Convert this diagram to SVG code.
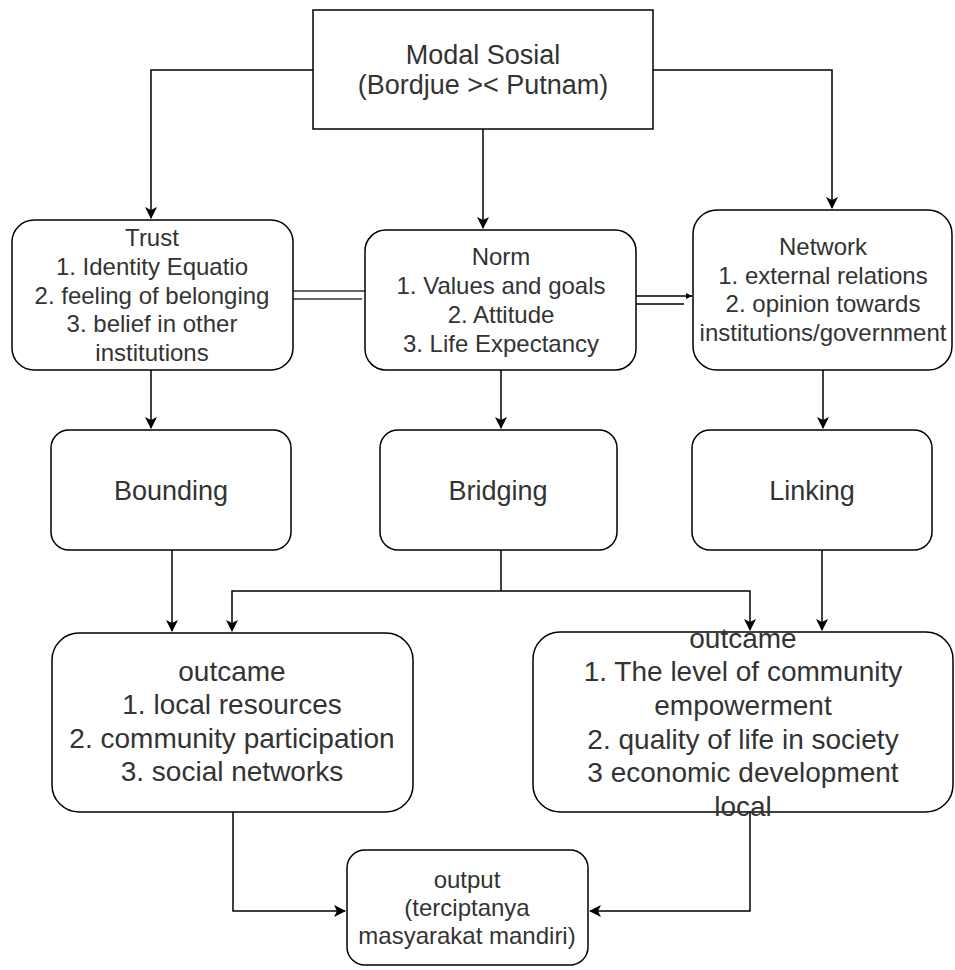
<svg xmlns="http://www.w3.org/2000/svg" width="955" height="970" viewBox="0 0 955 970">
<style>
.box{fill:#fff;stroke:#000;stroke-width:1.5}
.t{font-family:"Liberation Sans",Arial,sans-serif;fill:#333;text-anchor:middle}
.s24{font-size:24px}
.s27{font-size:27px}
.s28{font-size:28px}
.c{fill:none;stroke:#000;stroke-width:1.5}
.dl{fill:none;stroke:#666;stroke-width:2}
</style>
<defs>
<marker id="ah" markerWidth="12" markerHeight="12" viewBox="0 0 12 12" refX="11" refY="6" orient="auto" markerUnits="userSpaceOnUse">
<path d="M0,0 L12,6 L0,12 L3,6 Z" fill="#000"/>
</marker>
</defs>
<rect width="955" height="970" fill="#fff"/>
<g id="connectors">
<path class="c" d="M313,70 H151 V218" marker-end="url(#ah)"/>
<path class="c" d="M483,129 V228" marker-end="url(#ah)"/>
<path class="c" d="M653,70 H832 V208" marker-end="url(#ah)"/>
<path class="dl" d="M293,291 H365 M293,299 H362"/>
<path class="c" d="M636,296 H692 M636,304 H684"/>
<path d="M686,293 L692,296 L686,299 Z" fill="#000"/>
<path class="c" d="M151,370 V428" marker-end="url(#ah)"/>
<path class="c" d="M501,370 V428" marker-end="url(#ah)"/>
<path class="c" d="M823,370 V428" marker-end="url(#ah)"/>
<path class="c" d="M172,550 V631" marker-end="url(#ah)"/>
<path class="c" d="M501,550 V591"/>
<path class="c" d="M501,591 H232 V631" marker-end="url(#ah)"/>
<path class="c" d="M501,591 H750 V630" marker-end="url(#ah)"/>
<path class="c" d="M822,550 V630" marker-end="url(#ah)"/>
<path class="c" d="M233,812 V911 H345" marker-end="url(#ah)"/>
<path class="c" d="M750,812 V911 H590" marker-end="url(#ah)"/>
</g>
<g id="modal">
<rect class="box" x="313" y="10" width="340" height="119"/>
<text class="t s27" x="483" y="64">Modal Sosial</text>
<text class="t s27" x="483" y="94">(Bordjue &gt;&lt; Putnam)</text>
</g>
<g id="trust">
<rect class="box" x="12" y="220" width="281" height="150" rx="22"/>
<text class="t s24" x="152" y="246">Trust</text>
<text class="t s24" x="152" y="275">1. Identity Equatio</text>
<text class="t s24" x="152" y="304">2. feeling of belonging</text>
<text class="t s24" x="152" y="332">3. belief in other</text>
<text class="t s24" x="152" y="361">institutions</text>
</g>
<g id="norm">
<rect class="box" x="365" y="230" width="271" height="140" rx="21"/>
<text class="t s24" x="501" y="265">Norm</text>
<text class="t s24" x="501" y="294">1. Values and goals</text>
<text class="t s24" x="501" y="323">2. Attitude</text>
<text class="t s24" x="501" y="352">3. Life Expectancy</text>
</g>
<g id="network">
<rect class="box" x="693" y="210" width="259" height="160" rx="24"/>
<text class="t s24" x="823" y="255">Network</text>
<text class="t s24" x="823" y="284">1. external relations</text>
<text class="t s24" x="823" y="312">2. opinion towards</text>
<text class="t s24" x="823" y="341">institutions/government</text>
</g>
<g id="bounding">
<rect class="box" x="51" y="430" width="240" height="120" rx="18"/>
<text class="t s27" x="171" y="500">Bounding</text>
</g>
<g id="bridging">
<rect class="box" x="380" y="430" width="237" height="120" rx="18"/>
<text class="t s27" x="498" y="500">Bridging</text>
</g>
<g id="linking">
<rect class="box" x="692" y="430" width="240" height="120" rx="18"/>
<text class="t s27" x="812" y="500">Linking</text>
</g>
<g id="outcome-left">
<rect class="box" x="52" y="633" width="361" height="179" rx="27"/>
<text class="t s28" x="232" y="681">outcame</text>
<text class="t s28" x="232" y="714">1. local resources</text>
<text class="t s28" x="232" y="748">2. community participation</text>
<text class="t s28" x="232" y="781">3. social networks</text>
</g>
<g id="outcome-right">
<rect class="box" x="533" y="632" width="420" height="180" rx="27"/>
<text class="t s28" x="743" y="648">outcame</text>
<text class="t s28" x="743" y="681">1. The level of community</text>
<text class="t s28" x="743" y="715">empowerment</text>
<text class="t s28" x="743" y="749">2. quality of life in society</text>
<text class="t s28" x="743" y="782">3 economic development</text>
<text class="t s28" x="743" y="816">local</text>
</g>
<g id="output">
<rect class="box" x="347" y="850" width="241" height="115" rx="18"/>
<text class="t s24" x="467" y="888">output</text>
<text class="t s24" x="467" y="916">(terciptanya</text>
<text class="t s24" x="467" y="944">masyarakat mandiri)</text>
</g>
</svg>
